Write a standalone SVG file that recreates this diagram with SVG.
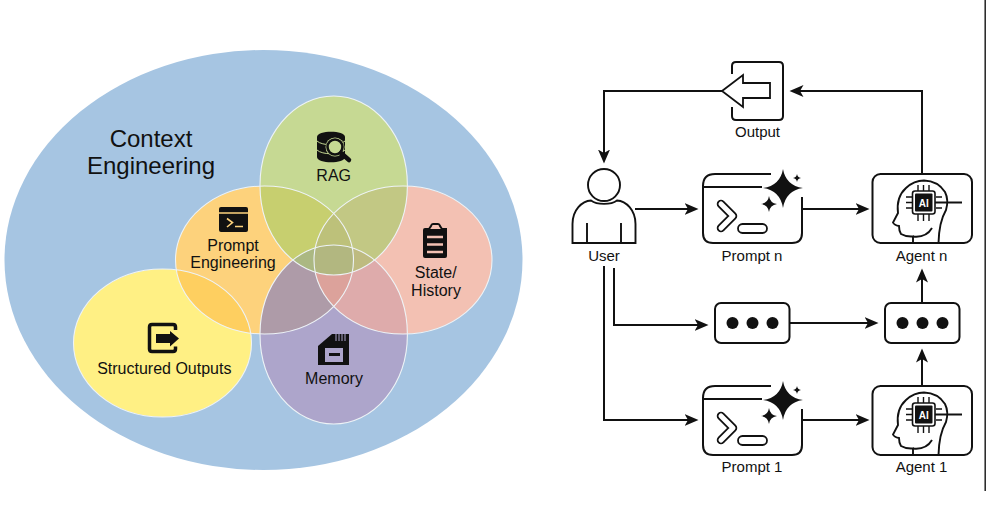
<svg xmlns="http://www.w3.org/2000/svg" width="986" height="506" viewBox="0 0 986 506">
<style>
text{font-family:"Liberation Sans",Arial,sans-serif;fill:#111;text-anchor:middle}
.l{font-size:16px}
.r{font-size:15px}
.t{font-size:24px}
.o{fill:none;stroke:#eef3f6;stroke-width:1.1}
.w{fill:none;stroke:#111;stroke-width:2}
.c{fill:none;stroke:#111;stroke-width:1.9}
.a{fill:none;stroke:#111;stroke-width:2;marker-end:url(#ah)}
.b{fill:#fff;stroke:#111;stroke-width:1.9}
.d{fill:#111}
</style>
<defs>
<marker id="ah" markerUnits="userSpaceOnUse" markerWidth="15" markerHeight="13" refX="3.500" refY="6.500" orient="auto" viewBox="0 0 15 13"><path d="M14,6.500 L0,0.500 L3.500,6.500 L0,12.500 Z" fill="#111"/></marker>
<clipPath id="cR"><ellipse cx="333.700" cy="185.500" rx="73.700" ry="89.500"/></clipPath>
<clipPath id="cP"><ellipse cx="264.500" cy="260" rx="89" ry="74"/></clipPath>
<clipPath id="cS"><ellipse cx="403" cy="260" rx="89" ry="74"/></clipPath>
<clipPath id="cM"><ellipse cx="333.700" cy="334.500" rx="73.700" ry="89.500"/></clipPath>
<clipPath id="cO"><ellipse cx="162.500" cy="343" rx="89" ry="74"/></clipPath>
<g id="promptIcon">
<path class="w" d="M771,174 H715 Q703,174 703,186 V233 Q703,243 713,243 H792 Q802,243 802,233 V197"/>
<path class="w" d="M703,187 H762"/>
<path class="d" d="M783,169 Q785.800,185.500 803,188 Q785.800,190.500 783,208 Q780.200,190.500 763,188 Q780.200,185.500 783,169 Z"/>
<path class="d" d="M769,196 Q770,203 777,204 Q770,205 769,212 Q768,205 761,204 Q768,203 769,196 Z"/>
<path class="d" d="M797,174 Q797.500,177.500 801,178 Q797.500,178.500 797,182 Q796.500,178.500 793,178 Q796.500,177.500 797,174 Z"/>
<polyline points="721,204 733,216 721,228" fill="none" stroke="#111" stroke-width="8.500" stroke-linecap="round" stroke-linejoin="round"/>
<polyline points="721,204 733,216 721,228" fill="none" stroke="#fff" stroke-width="5" stroke-linecap="round" stroke-linejoin="round"/>
<rect x="738" y="224" width="29" height="9" rx="4.500" fill="#fff" stroke="#111" stroke-width="1.800"/>
</g>
<g id="agentIcon">
<rect class="w" x="872.500" y="174" width="99.500" height="69" rx="8" fill="none"/>
<path class="c" d="M913,243 V236.500 Q906,237 901,234 Q899,231 899,226 Q894,225 893,222.500 L898,213 Q896,197 906,188 Q914,180.500 924,180.500 Q938,181 945,192 Q949,200 946,210 Q939,222 938.500,243"/>
<path class="c" d="M913,236.500 Q926,238 932,228"/>
<g stroke="#111" stroke-width="1.400">
<path d="M906,197 H912 M906,202.500 H912 M906,208 H912 M936,197 H942 M936,208 H942 M918,185 V191 M923.500,185 V191 M929,185 V191 M918,214 V221 M923.500,214 V221 M929,214 V221"/>
</g>
<path class="w" d="M935,202.500 H962"/>
<rect x="912.500" y="191" width="22.500" height="23" rx="2.500" fill="#fff" stroke="#111" stroke-width="1.600"/>
<rect x="915" y="193.500" width="17.500" height="18" rx="1" fill="#111"/>
<text x="923.800" y="206.500" style="font-size:10px;font-weight:bold;fill:#fff">AI</text>
</g>
<g id="dots">
<rect class="w" x="0" y="0" width="74.500" height="40" rx="6" fill="none"/>
<circle class="d" cx="17.500" cy="20" r="6"/><circle class="d" cx="37.500" cy="20" r="6"/><circle class="d" cx="57.500" cy="20" r="6"/>
</g>
</defs>

<rect width="986" height="506" fill="#fff"/>
<path d="M985.200,0 V491" fill="none" stroke="#222" stroke-width="1.500"/>

<g id="context">
<ellipse cx="263.500" cy="260" rx="259" ry="210" fill="#a6c5e2"/>
<text class="t" x="151" y="147">Context</text>
<text class="t" x="151" y="174">Engineering</text>
</g>

<g id="structured"><ellipse cx="162.500" cy="343" rx="89" ry="74" fill="#fff084"/></g>
<g id="prompt"><ellipse cx="264.500" cy="260" rx="89" ry="74" fill="#fdd27c"/></g>
<g id="memory"><ellipse cx="333.700" cy="334.500" rx="73.700" ry="89.500" fill="#ada5cb"/></g>
<g id="state"><ellipse cx="403" cy="260" rx="89" ry="74" fill="#f3c1b3"/></g>
<g id="rag"><ellipse cx="333.700" cy="185.500" rx="73.700" ry="89.500" fill="#c6d993"/></g>

<g id="overlaps">
<g clip-path="url(#cO)"><g clip-path="url(#cP)"><rect width="986" height="506" fill="#fecf60"/></g></g>
<g clip-path="url(#cR)"><g clip-path="url(#cP)"><rect width="986" height="506" fill="#c7cf6f"/></g></g>
<g clip-path="url(#cR)"><g clip-path="url(#cS)"><rect width="986" height="506" fill="#c2c884"/></g></g>
<g clip-path="url(#cM)"><g clip-path="url(#cP)"><rect width="986" height="506" fill="#ae9ba8"/></g></g>
<g clip-path="url(#cM)"><g clip-path="url(#cS)"><rect width="986" height="506" fill="#deabab"/></g></g>
<g clip-path="url(#cP)"><g clip-path="url(#cS)"><rect width="986" height="506" fill="#dca29b"/></g></g>
<g clip-path="url(#cP)"><g clip-path="url(#cS)"><g clip-path="url(#cR)"><rect width="986" height="506" fill="#bdc17a"/></g></g></g>
<g clip-path="url(#cR)"><g clip-path="url(#cM)"><g clip-path="url(#cP)"><rect width="986" height="506" fill="#abb882"/></g></g></g>
<g clip-path="url(#cR)"><g clip-path="url(#cM)"><g clip-path="url(#cS)"><rect width="986" height="506" fill="#bebb80"/></g></g></g>
<g clip-path="url(#cR)"><g clip-path="url(#cM)"><g clip-path="url(#cS)"><g clip-path="url(#cP)"><rect width="986" height="506" fill="#b2b780"/></g></g></g></g>
<ellipse class="o" cx="162.500" cy="343" rx="89" ry="74"/>
<ellipse class="o" cx="264.500" cy="260" rx="89" ry="74"/>
<ellipse class="o" cx="333.700" cy="334.500" rx="73.700" ry="89.500"/>
<ellipse class="o" cx="403" cy="260" rx="89" ry="74"/>
<ellipse class="o" cx="333.700" cy="185.500" rx="73.700" ry="89.500"/>
</g>

<g id="rag-label">
<path class="d" d="M317,137 C317,130 345,130 345,137 V157 C345,164 317,164 317,157 Z"/>
<path d="M317,141 C322,146 340,146 345,141 M317,150 C322,155 340,155 345,150" fill="none" stroke="#c6d993" stroke-width="1"/>
<circle cx="335" cy="147" r="9.500" fill="#c6d993"/>
<circle cx="335" cy="147" r="7.500" fill="#c6d993" stroke="#111" stroke-width="2.600"/>
<path d="M341,153 L349,160" stroke="#111" stroke-width="4.500" stroke-linecap="round"/>
<text class="l" x="333.700" y="181">RAG</text>
</g>
<g id="prompt-label">
<rect class="d" x="219" y="207" width="29" height="25" rx="2"/>
<path d="M219,213 H248 M227,218.500 L232.500,222.500 L227,227 M235,226.500 H243" fill="none" stroke="#fdd27c" stroke-width="1.600"/>
<text class="l" x="233" y="251">Prompt</text>
<text class="l" x="233" y="267.500">Engineering</text>
</g>
<g id="state-label">
<path class="d" d="M423,230 Q423,228 425,228 H447 V256 Q447,258 445,258 H425 Q423,258 423,256 Z"/>
<path d="M429,229 L431,226 Q431.500,224 433,224 H438 Q439.500,224 440,226 L442,229" fill="#f3c1b3" stroke="#111" stroke-width="2"/>
<path d="M427,237 H443 M427,244.500 H443 M427,252 H443" stroke="#f3c1b3" stroke-width="2.600"/>
<text class="l" x="435.700" y="278">State/</text>
<text class="l" x="436" y="296">History</text>
</g>
<g id="structured-label">
<path d="M175.500,330 V327 Q175.500,324.500 173,324.500 H152 Q149.500,324.500 149.500,327 V349 Q149.500,351.500 152,351.500 H173 Q175.500,351.500 175.500,349 V346.500" fill="none" stroke="#111" stroke-width="3.500"/>
<path class="d" d="M156,334 H170 V331 L179,338.500 L170,346.500 V343 H156 Z"/>
<text class="l" x="164.300" y="374">Structured Outputs</text>
</g>
<g id="memory-label">
<path class="d" d="M318,346 L332,334 H349 V365 H318 Z"/>
<path d="M336,334 V341 M339,334 V341 M342,334 V341 M345,334 V341" stroke="#ada5cb" stroke-width="1"/>
<rect x="325" y="348" width="18" height="14" fill="#ada5cb"/>
<rect class="d" x="329" y="353" width="11" height="3"/>
<text class="l" x="334" y="384">Memory</text>
</g>

<g id="connectors">
<path class="a" d="M722,91 H604 V153"/>
<path class="a" d="M922,174 V91 H800"/>
<path class="a" d="M635,209 H688"/>
<path class="a" d="M802,209 H859"/>
<path class="a" d="M614,268 V325 H698"/>
<path class="a" d="M604,266 V420 H688"/>
<path class="a" d="M790,323 H868"/>
<path class="a" d="M922,303 V279"/>
<path class="a" d="M922,386 V359"/>
<path class="a" d="M802,420 H859"/>
</g>

<g id="output">
<path class="w" d="M732,74 V66 Q732,62 736,62 H779 Q783,62 783,66 V116 Q783,120 779,120 H736 Q732,120 732,116 V107"/>
<path d="M722,91 L743,75 V83 H770 V98 H743 V107 Z" fill="#fff" stroke="#111" stroke-width="1.800"/>
<text class="r" x="757.500" y="137">Output</text>
</g>
<g id="user">
<circle cx="604" cy="185" r="16" class="b"/>
<path class="b" d="M572.500,243 V224 C572.500,210 582,201 591,200.500 C597,205 611,205 617,200.500 C626,201 635.500,210 635.500,224 V243 Z"/>
<path class="c" d="M587,223 V243 M621,223 V243"/>
<text class="r" x="604" y="261">User</text>
</g>
<g id="prompt-n"><use href="#promptIcon"/><text class="r" x="752" y="261">Prompt n</text></g>
<g id="agent-n"><use href="#agentIcon"/><text class="r" x="921.500" y="261">Agent n</text></g>
<g id="dots-mid"><use href="#dots" x="715" y="303"/></g>
<g id="dots-right"><use href="#dots" x="885" y="303"/></g>
<g id="prompt-1"><use href="#promptIcon" y="212"/><text class="r" x="752" y="472">Prompt 1</text></g>
<g id="agent-1"><use href="#agentIcon" y="212"/><text class="r" x="921.500" y="472">Agent 1</text></g>
</svg>
